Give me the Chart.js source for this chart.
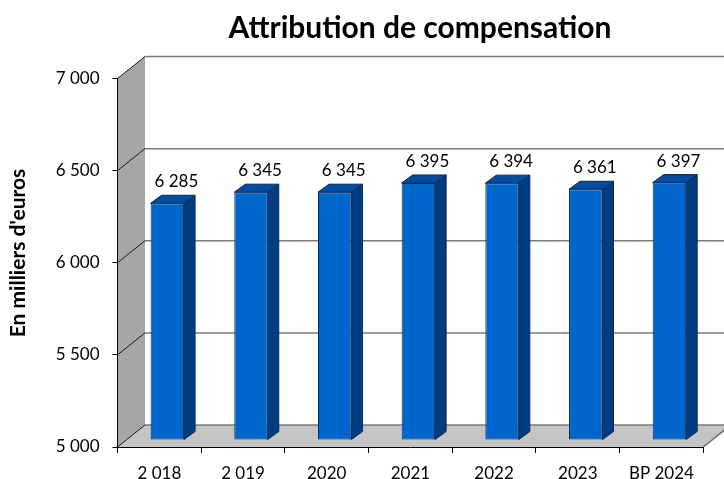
<!DOCTYPE html>
<html>
<head>
<meta charset="utf-8">
<script src="https://cdn.jsdelivr.net/npm/chart.js@4"></script>
<style>
  html, body { margin: 0; padding: 0; background: #fff; }
  #wrap { width: 724px; height: 479px; }
</style>
</head>
<body>
<div id="wrap"><canvas id="c" width="724" height="479"></canvas></div>
<script>
// ---- data ----
const categories = ['2 018', '2 019', '2020', '2021', '2022', '2023', 'BP 2024'];
const values = [6285, 6345, 6345, 6395, 6394, 6361, 6397];
const yTickMin = 5000;
const yTickMax = 7000;
const yTickStep = 500;
const chartTitle = 'Attribution de compensation';
const yAxisTitle = "En milliers d'euros";

// ---- styling constants ----
const WALL = { dx: 27.5, dy: -22 };
const BAR_SHIFT = { dx: 8, dy: -7 };
const BAR_DEPTH = { dx: 11, dy: -8 };
const FONT = 'Lato, "Open Sans", sans-serif';

function fmt(v) {
  return String(v).replace(/\B(?=(\d{3})+(?!\d))/g, ' ');
}

const threeD = {
  id: 'threeD',
  beforeDraw(chart) {
    const { ctx, chartArea: a, scales: { y } } = chart;
    const L = a.left, R = a.right, T = a.top, B = a.bottom;
    ctx.save();
    // back wall
    ctx.fillStyle = '#ffffff';
    ctx.fillRect(L + WALL.dx, T + WALL.dy, R - L, B - T);
    // side wall
    ctx.fillStyle = '#a6a6a6';
    ctx.beginPath();
    ctx.moveTo(L, T); ctx.lineTo(L + WALL.dx, T + WALL.dy);
    ctx.lineTo(L + WALL.dx, B + WALL.dy); ctx.lineTo(L, B);
    ctx.closePath(); ctx.fill();
    // floor
    ctx.fillStyle = '#c4c4c4';
    ctx.beginPath();
    ctx.moveTo(L, B); ctx.lineTo(L + WALL.dx, B + WALL.dy);
    ctx.lineTo(R + WALL.dx, B + WALL.dy); ctx.lineTo(R, B);
    ctx.closePath(); ctx.fill();
    ctx.strokeStyle = '#6e6e6e';
    ctx.lineWidth = 1.5;
    ctx.beginPath();
    ctx.moveTo(R, B); ctx.lineTo(R + WALL.dx, B + WALL.dy);
    ctx.stroke();
    // grid lines
    y.ticks.forEach(t => {
      const py = y.getPixelForValue(t.value);
      ctx.strokeStyle = '#7a7a7a';
      ctx.lineWidth = 1.5;
      ctx.beginPath();
      ctx.moveTo(L + WALL.dx, py + WALL.dy);
      ctx.lineTo(R + WALL.dx, py + WALL.dy);
      ctx.stroke();
      ctx.strokeStyle = '#1a1a1a';
      ctx.lineWidth = 1;
      ctx.beginPath();
      ctx.moveTo(L, py);
      ctx.lineTo(L + WALL.dx, py + WALL.dy);
      ctx.stroke();
    });
    ctx.restore();
  },
  beforeDatasetsDraw(chart) {
    chart.ctx.save();
    chart.ctx.translate(BAR_SHIFT.dx, BAR_SHIFT.dy);
  },
  afterDatasetsDraw(chart) {
    const ctx = chart.ctx;
    const meta = chart.getDatasetMeta(0);
    meta.data.forEach((el, i) => {
      const p = el.getProps(['x', 'y', 'base', 'width'], true);
      const left = p.x - p.width / 2, right = p.x + p.width / 2;
      ctx.strokeStyle = '#0a2a5a';
      ctx.lineWidth = 1;
      // side face
      ctx.fillStyle = '#003d80';
      ctx.beginPath();
      ctx.moveTo(right, p.y);
      ctx.lineTo(right + BAR_DEPTH.dx, p.y + BAR_DEPTH.dy);
      ctx.lineTo(right + BAR_DEPTH.dx, p.base + BAR_DEPTH.dy);
      ctx.lineTo(right, p.base);
      ctx.closePath(); ctx.fill(); ctx.stroke();
      // top face
      ctx.fillStyle = '#004c9e';
      ctx.beginPath();
      ctx.moveTo(left, p.y);
      ctx.lineTo(left + BAR_DEPTH.dx, p.y + BAR_DEPTH.dy);
      ctx.lineTo(right + BAR_DEPTH.dx, p.y + BAR_DEPTH.dy);
      ctx.lineTo(right, p.y);
      ctx.closePath(); ctx.fill(); ctx.stroke();
      // value label
      ctx.fillStyle = '#000';
      ctx.font = '17px ' + FONT;
      ctx.textAlign = 'center';
      ctx.textBaseline = 'alphabetic';
      ctx.fillText(fmt(values[i]), p.x + 9, p.y - 16);
    });
    ctx.restore();
  },
  afterDraw(chart) {
    const ctx = chart.ctx;
    ctx.save();
    ctx.fillStyle = '#000';
    ctx.font = 'bold 30px ' + FONT;
    ctx.textAlign = 'center';
    ctx.textBaseline = 'alphabetic';
    ctx.fillText(chartTitle, 420, 38);
    ctx.translate(18, 253);
    ctx.rotate(-Math.PI / 2);
    ctx.font = 'bold 21px ' + FONT;
    ctx.textBaseline = 'middle';
    ctx.fillText(yAxisTitle, 0, 0);
    ctx.restore();
  }
};

new Chart(document.getElementById('c'), {
  type: 'bar',
  data: {
    labels: categories,
    datasets: [{
      data: values,
      base: yTickMin,
      backgroundColor: '#0066cc',
      borderColor: '#0a2a5a',
      borderWidth: 1,
      borderSkipped: false,
      categoryPercentage: 1,
      barPercentage: 0.4,
      clip: false
    }]
  },
  options: {
    responsive: false,
    devicePixelRatio: 1,
    animation: false,
    events: [],
    layout: { padding: { top: 78.5, right: 20.7, left: 0, bottom: 0 } },
    plugins: { legend: { display: false }, tooltip: { enabled: false }, title: { display: false } },
    scales: {
      x: {
        offset: true,
        grid: { offset: true, drawOnChartArea: false, tickLength: 6, color: '#000' },
        border: { color: '#000', width: 1 },
        ticks: { color: '#000', font: { family: FONT, size: 17 }, padding: 10, maxRotation: 0, autoSkip: false },
        afterFit(s) { s.height = 32; s.paddingLeft = 0; s.paddingRight = 0; }
      },
      y: {
        min: yTickMin,
        max: yTickMax,
        grid: { drawOnChartArea: false, tickLength: 5, color: '#000' },
        border: { color: '#000', width: 1 },
        ticks: { stepSize: yTickStep, color: '#000', font: { family: FONT, size: 17 }, padding: 13, callback: v => fmt(v) },
        afterFit(s) { s.width = 117.5; s.paddingTop = 0; s.paddingBottom = 0; }
      }
    }
  },
  plugins: [threeD]
});
</script>
</body>
</html>
